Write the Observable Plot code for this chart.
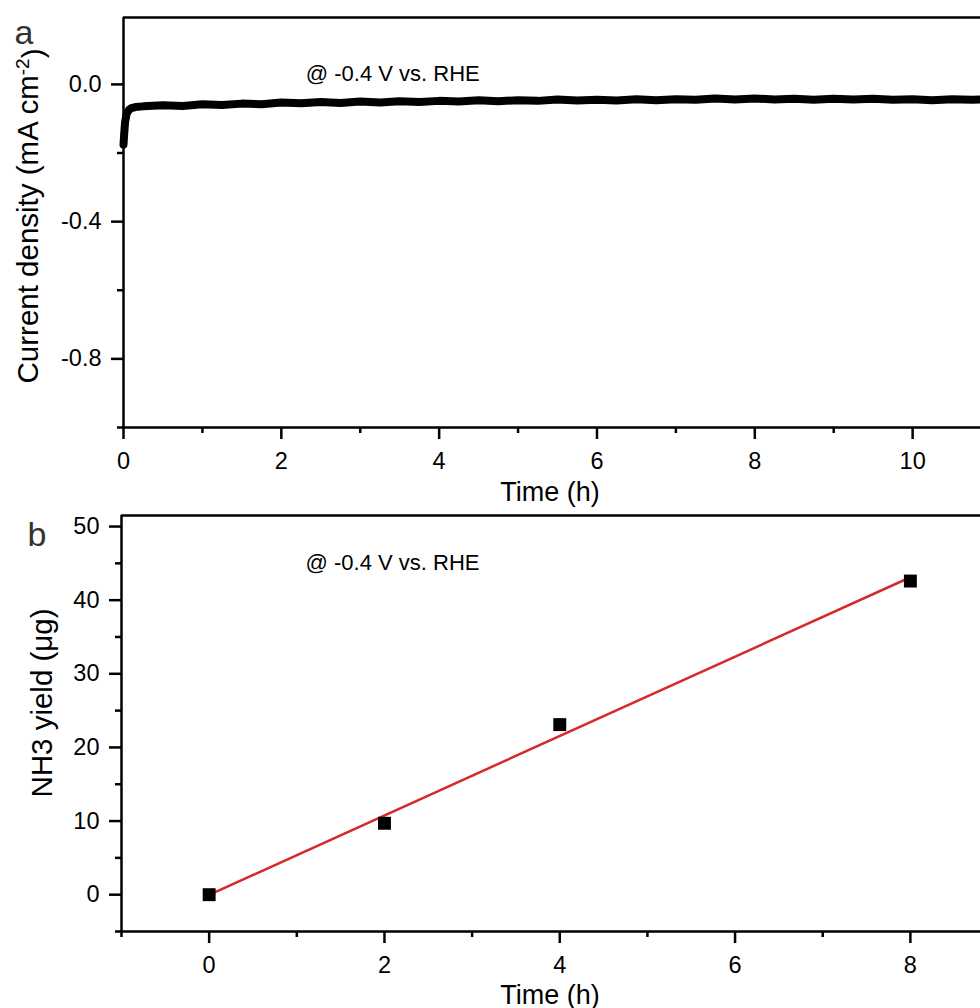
<!DOCTYPE html>
<html>
<head>
<meta charset="utf-8">
<script src="https://cdn.jsdelivr.net/npm/d3@7"></script>
<script src="https://cdn.jsdelivr.net/npm/@observablehq/plot@0.6"></script>
<style>
  html, body { margin: 0; padding: 0; background: #fff; }
  svg { display: block; }
</style>
</head>
<body>
<div id="chart"></div>
<script>
// ---------- Panel a: chronoamperometry ----------
const curTime = [0, 0.01, 0.02, 0.04, 0.07, 0.1, 0.15, 0.25, 0.5, 0.75, 1.0, 1.25, 1.5, 1.75, 2.0, 2.25, 2.5, 2.75,
  3.0, 3.25, 3.5, 3.75, 4.0, 4.25, 4.5, 4.75, 5.0, 5.25, 5.5, 5.75, 6.0, 6.25, 6.5, 6.75, 7.0, 7.25, 7.5, 7.75,
  8.0, 8.25, 8.5, 8.75, 9.0, 9.25, 9.5, 9.75, 10.0, 10.25, 10.5, 10.75, 10.86];
const curDensity = [-0.175, -0.14, -0.11, -0.085, -0.074, -0.069, -0.066, -0.064, -0.061, -0.063, -0.058, -0.060,
  -0.056, -0.058, -0.053, -0.055, -0.051, -0.054, -0.050, -0.053, -0.049, -0.051, -0.048, -0.050, -0.046, -0.049,
  -0.046, -0.048, -0.044, -0.047, -0.045, -0.047, -0.043, -0.046, -0.043, -0.045, -0.041, -0.044, -0.041, -0.044,
  -0.042, -0.045, -0.042, -0.044, -0.042, -0.045, -0.043, -0.046, -0.043, -0.045, -0.044];
const xMajorA = [0, 2, 4, 6, 8, 10];
const xMinorA = [1, 3, 5, 7, 9];
const yMajorA = [-0.8, -0.4, 0.0];
const yMinorA = [-1.0, -0.6, -0.2];
const xDomainA = [0, 10.86];
const yDomainA = [-1.0, 0.195];

// ---------- Panel b: NH3 yield ----------
const yieldTime = [0, 2, 4, 8];
const yieldNH3 = [0.0, 9.7, 23.1, 42.6];
const xMajorB = [0, 2, 4, 6, 8];
const xMinorB = [-1, 1, 3, 5, 7];
const yMajorB = [0, 10, 20, 30, 40, 50];
const yMinorB = [-5, 5, 15, 25, 35, 45];
const xDomainB = [-1, 8.8];
const yDomainB = [-5, 51.5];

// annotation
const annotText = ["@ -0.4 V vs. RHE"];
const annotXA = [2.31], annotYA = [0.03];
const annotXB = [1.10], annotYB = [45.0];

const FONT = '"Liberation Sans", Arial, Helvetica, sans-serif';
const AX = 2.5;
const TICKFS = 23.5;

const curData = curTime.map((t, i) => ({t, j: curDensity[i]}));
const yieldData = yieldTime.map((t, i) => ({t, v: yieldNH3[i]}));

const plotA = Plot.plot({
  width: 980, height: 505,
  marginTop: 17, marginBottom: 78, marginLeft: 123, marginRight: 0,
  style: {fontFamily: FONT, fontSize: "22px", color: "#000", background: "#fff", overflow: "visible"},
  x: {domain: xDomainA, label: null},
  y: {domain: yDomainA, label: null},
  marks: [
    Plot.line(curData, {x: "t", y: "j", stroke: "#000", strokeWidth: 8, strokeLinejoin: "round", strokeLinecap: "round"}),
    Plot.ruleX([xDomainA[0]], {stroke: "#000", strokeWidth: AX}),
    Plot.ruleY([yDomainA[0]], {stroke: "#000", strokeWidth: AX}),
    Plot.ruleY([yDomainA[1]], {stroke: "#000", strokeWidth: AX}),
    Plot.axisX({ticks: xMajorA, tickSize: 12, tickPadding: 13, tickFormat: d => String(d), strokeWidth: AX, fontSize: TICKFS, label: null}),
    Plot.axisX({ticks: xMinorA, tickSize: 6, text: null, strokeWidth: AX, label: null}),
    Plot.axisY({ticks: yMajorA, tickSize: 12, tickPadding: 10, tickFormat: d => d.toFixed(1), strokeWidth: AX, fontSize: TICKFS, label: null}),
    Plot.axisY({ticks: yMinorA, tickSize: 6, text: null, strokeWidth: AX, label: null}),
    Plot.text(annotText, {x: annotXA, y: annotYA, text: d => d, textAnchor: "start", fontSize: 22, fill: "#000"})
  ]
});

const plotB = Plot.plot({
  width: 980, height: 503,
  marginTop: 10, marginBottom: 77, marginLeft: 121, marginRight: 0,
  style: {fontFamily: FONT, fontSize: "22px", color: "#000", background: "#fff", overflow: "visible"},
  x: {domain: xDomainB, label: null},
  y: {domain: yDomainB, label: null},
  marks: [
    Plot.linearRegressionY(yieldData, {x: "t", y: "v", ci: 0, stroke: "#d42a2a", strokeWidth: 2.5}),
    Plot.dot(yieldData, {x: "t", y: "v", symbol: "square", r: 7.3, fill: "#000", stroke: "none"}),
    Plot.ruleX([xDomainB[0]], {stroke: "#000", strokeWidth: AX}),
    Plot.ruleY([yDomainB[0]], {stroke: "#000", strokeWidth: AX}),
    Plot.ruleY([yDomainB[1]], {stroke: "#000", strokeWidth: AX}),
    Plot.axisX({ticks: xMajorB, tickSize: 12, tickPadding: 13, tickFormat: d => String(d), strokeWidth: AX, fontSize: TICKFS, label: null}),
    Plot.axisX({ticks: xMinorB, tickSize: 6, text: null, strokeWidth: AX, label: null}),
    Plot.axisY({ticks: yMajorB, tickSize: 12, tickPadding: 10, tickFormat: d => String(d), strokeWidth: AX, fontSize: TICKFS, label: null}),
    Plot.axisY({ticks: yMinorB, tickSize: 6, text: null, strokeWidth: AX, label: null}),
    Plot.text(annotText, {x: annotXB, y: annotYB, text: d => d, textAnchor: "start", fontSize: 22, fill: "#000"})
  ]
});

function addLabels(svg, opts) {
  const s = d3.select(svg);
  s.append("text").attr("x", opts.letterX).attr("y", opts.letterY)
    .attr("font-family", FONT).attr("font-size", 34).attr("fill", "#333").text(opts.letter);
  s.append("text").attr("x", opts.xLabelX).attr("y", opts.xLabelY)
    .attr("text-anchor", "middle").attr("font-family", FONT).attr("font-size", 27).attr("fill", "#000")
    .text("Time (h)");
  const t = s.append("text")
    .attr("transform", `translate(${opts.yLabelX},${opts.yLabelY}) rotate(-90)`)
    .attr("text-anchor", "middle").attr("font-family", FONT).attr("font-size", 29.5).attr("fill", "#000");
  opts.yLabel(t);
}

addLabels(plotA, {
  letter: "a", letterX: 24, letterY: 44,
  xLabelX: 550, xLabelY: 501,
  yLabelX: 38, yLabelY: 216,
  yLabel: t => {
    t.append("tspan").text("Current density (mA cm");
    t.append("tspan").attr("dy", "-0.45em").attr("font-size", 19).text("-2");
    t.append("tspan").attr("dy", "0.45em").text(")");
  }
});
addLabels(plotB, {
  letter: "b", letterX: 37, letterY: 41,
  xLabelX: 550, xLabelY: 499,
  yLabelX: 52, yLabelY: 198,
  yLabel: t => { t.text("NH3 yield (\u03bcg)"); }
});

document.getElementById("chart").append(plotA, plotB);
</script>
</body>
</html>
